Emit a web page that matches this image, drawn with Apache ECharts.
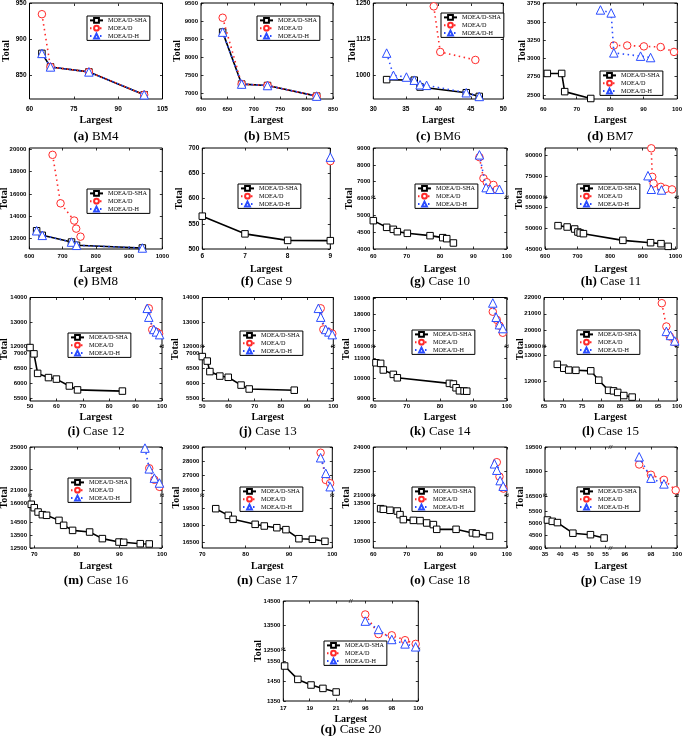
<!DOCTYPE html>
<html><head><meta charset="utf-8">
<script src="https://cdn.jsdelivr.net/npm/echarts@6/dist/echarts.min.js"></script>
<style>html,body{margin:0;padding:0;background:#fff}#c{width:685px;height:740px}</style>
</head><body><div id="c"></div>
<script>
// ---------- tick labels ----------
const A_XT=[60,75,90,105], A_YT=[850,900,950];
const B_XT=[600,650,700,750,800,850], B_YT=[7000,7500,8000,8500,9000,9500];
const C_XT=[30,35,40,45,50], C_YT=[1000,1125,1250];
const D_XT=[60,70,80,90,100], D_YT=[2500,2750,3000,3250,3500,3750];
const E_XT=[600,700,800,900,1000], E_YT=[12000,14000,16000,18000,20000];
const F_XT=[6,7,8,9], F_YT=[500,550,600,650,700];
const G_XT=[60,70,80,90,100], G_YT_LO=[4000,4500,5000], G_YT_HI=[6000,7000,8000,9000];
const H_XT=[600,700,800,900,1000], H_YT_LO=[45000,50000,55000], H_YT_HI=[60000,75000,90000];
const I_XT=[50,60,70,80,90,100], I_YT_LO=[5500,6000,6500,7000], I_YT_HI=[12000,13000,14000];
const J_XT=[50,60,70,80,90,100], J_YT_LO=[5500,6000,6500,7000], J_YT_HI=[12000,13000,14000];
const K_XT=[60,70,80,90,100], K_YT_LO=[9000,10000,11000], K_YT_HI=[16000,17000,18000,19000];
const L_XT=[65,70,75,80,85,90,95,100], L_YT_LO=[12000,13000], L_YT_HI=[19000,20000,21000,22000];
const M_XT=[70,80,90,100], M_YT_LO=[12500,13500,14500,16000], M_YT_HI=[21000,23000,25000];
const N_XT=[70,80,90,100], N_YT_LO=[16500,18000,19500], N_YT_HI=[26000,27000,28000,29000];
const O_XT=[60,70,80,90,100], O_YT_LO=[10500,12000,13500], O_YT_HI=[21000,22500,24000];
const P_XT_LO=[35,40,45,50,55], P_XT_HI=[96,98,100], P_YT_LO=[4000,4500,5000,5500], P_YT_HI=[16500,18000,19500];
const Q_XT_LO=[17,19,21], Q_XT_HI=[96,98,100], Q_YT_LO=[1350,1450,1550], Q_YT_HI=[12500,13500,14500];

// ---------- series values [Largest, Total] ----------
const A_SHA=[[64.2,880],[67.1,861],[80.1,854],[98.8,822]];
const A_D=[[64.2,935],[67.1,861],[80.1,854],[98.8,822]];
const A_H=[[64.2,880],[67.1,861],[80.1,854],[98.8,822]];
const B_SHA=[[641,8690],[677,7245],[726,7205],[819,6910]];
const B_D=[[641,9090],[677,7245],[726,7205],[819,6910]];
const B_H=[[641,8690],[677,7245],[726,7205],[819,6910]];
const C_SHA=[[32.05,983],[36.3,981],[37.2,957],[44.3,937],[46.3,924]];
const C_D=[[39.3,1240],[40.3,1080],[45.7,1052]];
const C_H=[[32.05,1076],[33.1,998],[35.1,992],[36.3,981],[37.2,965],[38.2,963],[44.3,937],[46.3,924]];
const D_SHA=[[61.2,2795],[65.5,2795],[66.4,2546],[74.2,2452]];
const D_D=[[81.1,3178],[85.1,3178],[90.1,3166],[95.1,3157],[99.1,3090]];
const D_H=[[77.1,3665],[80.3,3624],[81.1,3077],[89.1,3032],[92.1,3013]];
const E_SHA=[[622,12710],[639,12300],[727,11700],[742,11410],[940,11170]];
const E_D=[[670,19490],[694,15160],[735,13620],[741,12900],[754,12180]];
const E_H=[[622,12710],[639,12300],[727,11700],[742,11410],[940,11170]];
const F_SHA=[[6,565],[7,530],[8,517],[9,516.5]];
const F_D=[[9,674]];
const F_H=[[9,682]];
const G_SHA=[[60,4850],[64,4650],[66,4590],[67.2,4520],[70.2,4470],[77,4400],[80.8,4340],[82,4310],[84,4180]];
const G_D=[[91.8,8460],[93,7200],[94,6960],[96,6800],[97,6520]];
const G_H=[[91.8,8600],[93.8,6640],[95,6540],[97.8,6540]];
const H_SHA=[[640,50560],[668,50240],[691,49760],[701,49050],[708,48810],[718,48650],[839,47060],[924,46500],[956,46270],[978,45630]];
const H_D=[[922,94700],[925,74500],[929,69800],[951,67400],[966,66000],[985,65600]];
const H_H=[[912,75300],[922,65700],[953,65200]];
const I_SHA=[[50,7190],[51.5,6980],[52.9,6330],[57,6190],[60,6140],[64.9,5910],[68,5780],[85,5740]];
const I_D=[[95,13560],[96.3,12690],[97.9,12600],[98.9,12530]];
const I_H=[[94.4,13560],[95,13200],[96.9,12700],[97.9,12600],[99.1,12490]];
const J_SHA=[[50,6890],[51.9,6740],[52.9,6390],[56.7,6240],[59.9,6200],[64.8,5940],[67.9,5810],[85.1,5770]];
const J_D=[[95.2,13560],[96.2,12700],[98.1,12600],[99.6,12530]];
const J_H=[[94.3,13560],[95.2,13200],[97.1,12700],[98.3,12600],[99.6,12490]];
const K_SHA=[[60.8,10780],[62.2,10750],[63,10420],[66,10200],[67.2,10030],[82.8,9750],[84,9720],[84.8,9530],[85.8,9380],[87.2,9370],[88,9360]];
const K_D=[[95.8,18160],[97,17660],[97.8,17300],[98.8,16860]];
const K_H=[[95.8,18700],[96.8,17820],[97.8,17360],[98.8,17120]];
const L_SHA=[[68.5,12640],[70.2,12490],[71.5,12420],[73.4,12410],[77.3,12390],[79.4,12030],[82,11640],[83.3,11620],[84.4,11560],[86,11440],[88.2,11380]];
const L_D=[[96,21650],[97.2,20220],[98.1,19610],[99.4,19270]];
const L_H=[[97.2,19920],[98.3,19670],[99.4,19330]];
const M_SHA=[[69.3,15950],[70,15680],[70.9,15340],[71.9,15130],[72.9,15080],[75.8,14680],[76.9,14290],[79,13890],[83,13760],[86,13240],[89.9,12970],[91,12950],[94.9,12840],[97,12820]];
const M_D=[[97,23050],[98.2,22000],[99.4,21350]];
const M_H=[[96,24900],[97,23000],[98.2,22150],[99.4,21700]];
const N_SHA=[[73.1,19440],[76,18850],[77.1,18500],[82.2,18060],[84.3,17910],[87.2,17760],[89.3,17590],[92.3,16790],[95.4,16740],[98.3,16560]];
const N_D=[[97.3,28600],[98.5,26700],[99.5,26470]];
const N_H=[[97.3,28250],[98.5,27160],[99.5,26230]];
const O_SHA=[[62.2,13100],[63,13050],[65,12970],[67.2,12910],[68,12620],[69,12220],[72,12160],[74,12140],[76,11950],[78,11820],[79,11440],[84.8,11440],[89.7,11150],[90.8,11090],[94.8,10900]];
const O_D=[[97,23050],[97.8,22150],[99,21400]];
const O_H=[[96.3,22950],[97,22550],[98,21900],[98.9,21550]];
const P_SHA=[[35.8,5135],[37.4,5080],[39.1,5030],[44.2,4600],[50,4540],[54.5,4405]];
const P_D=[[97.1,18430],[98,17800],[99,17490],[99.9,16850]];
const P_H=[[97.1,18900],[98,17590],[99,17240]];
const Q_SHA=[[17.1,1525],[18.1,1458],[19.1,1430],[20,1413],[21,1395]];
const Q_D=[[96,13950],[97,13150],[98,13100],[99,12900],[99.8,12750]];
const Q_H=[[96,13680],[97,13340],[98,12930],[99,12750],[99.8,12630]];

const NAMES=['MOEA/D-SHA','MOEA/D','MOEA/D-H'];

// ---------- layout ----------
const SER='"Liberation Serif","DejaVu Serif",serif';
const SAN='"Liberation Sans","DejaVu Sans",sans-serif';
const ROWS=[
 {top:3,h:96,xm:7,nameY:120,capY:137},
 {top:148,h:101,xm:4,nameY:269,capY:282},
 {top:297.5,h:103.5,xm:2.5,nameY:417,capY:432},
 {top:447,h:101,xm:3.5,nameY:566,capY:581},
 {top:601,h:100,xm:4,nameY:719,capY:730}
];
const P=[
 {lab:'(a)',cap:'BM4',row:0,x:29.5,w:133,tx:6,fs:6.5,xs:[{min:60,max:105,t:A_XT}],ys:[{min:816,max:950,t:A_YT}],s:[A_SHA,A_D,A_H],leg:[87,16]},
 {lab:'(b)',cap:'BM5',row:0,x:201,w:132,tx:177,xs:[{min:600,max:850,t:B_XT}],ys:[{min:6830,max:9500,t:B_YT}],s:[B_SHA,B_D,B_H],leg:[257,16]},
 {lab:'(c)',cap:'BM6',row:0,x:373.3,w:130,tx:352.7,fs:6.5,xs:[{min:30,max:50,t:C_XT}],ys:[{min:915,max:1250,t:C_YT}],s:[C_SHA,C_D,C_H],leg:[441,13]},
 {lab:'(d)',cap:'BM7',row:0,x:543.3,w:134,tx:522.7,xs:[{min:60,max:100,t:D_XT}],ys:[{min:2445,max:3760,t:D_YT}],s:[D_SHA,D_D,D_H],leg:[600,71]},
 {lab:'(e)',cap:'BM8',row:1,x:29.3,w:133,tx:4,xs:[{min:600,max:1000,t:E_XT}],ys:[{min:11080,max:20100,t:E_YT}],s:[E_SHA,E_D,E_H],leg:[87,189]},
 {lab:'(f)',cap:'Case 9',row:1,x:202.3,w:128,tx:179,fs:6.5,xs:[{min:6,max:9,t:F_XT}],ys:[{min:500,max:700,t:F_YT}],s:[F_SHA,F_D,F_H],leg:[238,184]},
 {lab:'(g)',cap:'Case 10',row:1,x:373.3,w:133.5,tx:349.3,xs:[{min:60,max:100,t:G_XT}],ys:[{min:4000,max:5520,t:G_YT_LO,f:[0,0.502]},{min:6000,max:9010,t:G_YT_HI,f:[0.502,1]}],s:[G_SHA,G_D,G_H],leg:[415,184]},
 {lab:'(h)',cap:'Case 11',row:1,x:545,w:132,tx:519,xs:[{min:600,max:1000,t:H_XT}],ys:[{min:45000,max:57070,t:H_YT_LO,f:[0,0.502]},{min:59300,max:94900,t:H_YT_HI,f:[0.502,1]}],s:[H_SHA,H_D,H_H],leg:[577,184]},
 {lab:'(i)',cap:'Case 12',row:2,x:30,w:132,tx:4,xs:[{min:50,max:100,t:I_XT}],ys:[{min:5410,max:7220,t:I_YT_LO,f:[0,0.525]},{min:12000,max:14000,t:I_YT_HI,f:[0.525,1]}],s:[I_SHA,I_D,I_H],leg:[68,333]},
 {lab:'(j)',cap:'Case 13',row:2,x:202.3,w:131,tx:175.7,xs:[{min:50,max:100,t:J_XT}],ys:[{min:5410,max:7220,t:J_YT_LO,f:[0,0.525]},{min:12000,max:14000,t:J_YT_HI,f:[0.525,1]}],s:[J_SHA,J_D,J_H],leg:[240,331]},
 {lab:'(k)',cap:'Case 14',row:2,x:373.3,w:133.5,tx:346,xs:[{min:60,max:100,t:K_XT}],ys:[{min:8870,max:11585,t:K_YT_LO,f:[0,0.525]},{min:16000,max:19040,t:K_YT_HI,f:[0.525,1]}],s:[K_SHA,K_D,K_H],leg:[412,330]},
 {lab:'(l)',cap:'Case 15',row:2,x:544,w:133,tx:520,xs:[{min:65,max:100,t:L_XT}],ys:[{min:11230,max:13320,t:L_YT_LO,f:[0,0.525]},{min:18980,max:22000,t:L_YT_HI,f:[0.525,1]}],s:[L_SHA,L_D,L_H],leg:[577,330]},
 {lab:'(m)',cap:'Case 16',row:3,x:30,w:132,tx:4,xs:[{min:69,max:100,t:M_XT}],ys:[{min:12500,max:16605,t:M_YT_LO,f:[0,0.515]},{min:20510,max:25000,t:M_YT_HI,f:[0.515,1]}],s:[M_SHA,M_D,M_H],leg:[68,478]},
 {lab:'(n)',cap:'Case 17',row:3,x:202.3,w:130,tx:176.7,xs:[{min:70,max:100,t:N_XT}],ys:[{min:15970,max:20560,t:N_YT_LO,f:[0,0.515]},{min:25580,max:29000,t:N_YT_HI,f:[0.515,1]}],s:[N_SHA,N_D,N_H],leg:[240,487]},
 {lab:'(o)',cap:'Case 18',row:3,x:373.3,w:133.5,tx:346,xs:[{min:60,max:100,t:O_XT}],ys:[{min:9940,max:14118,t:O_YT_LO,f:[0,0.515]},{min:20938,max:24000,t:O_YT_HI,f:[0.515,1]}],s:[O_SHA,O_D,O_H],leg:[412,487]},
 {lab:'(p)',cap:'Case 19',row:3,x:545,w:132,tx:520,xs:[{min:35,max:56.6,t:P_XT_LO,f:[0,0.496]},{min:94.9,max:100,t:P_XT_HI,f:[0.496,1]}],ys:[{min:4000,max:6108,t:P_YT_LO,f:[0,0.515]},{min:16500,max:19500,t:P_YT_HI,f:[0.515,1]}],s:[P_SHA,P_D,P_H],leg:[577,487]},
 {lab:'(q)',cap:'Case 20',row:4,x:283.3,w:135,tx:258.3,xs:[{min:17,max:22.1,t:Q_XT_LO,f:[0,0.499]},{min:94.9,max:100,t:Q_XT_HI,f:[0.499,1]}],ys:[{min:1350,max:1605,t:Q_YT_LO,f:[0,0.51]},{min:12500,max:14500,t:Q_YT_HI,f:[0.51,1]}],s:[Q_SHA,Q_D,Q_H],leg:[324,641]}
];

const STY=[
 {symbol:'rect',size:6.5,color:'#000',line:{width:1.6,type:'solid'}},
 {symbol:'circle',size:7.5,color:'#ff2a2a',line:{width:1.6,type:[1.5,3.5]}},
 {symbol:'triangle',size:8.5,color:'#2a4cff',line:{width:1.6,type:[1.5,3.5]}}
];

function axisX(gi,seg,pos,off,showLab,showTick,fs,margin){
  return {gridIndex:gi,type:'value',min:seg.min,max:seg.max,position:pos,offset:off,
    axisLine:{show:false},splitLine:{show:false},
    axisTick:{show:showTick,inside:true,length:2.5,customValues:seg.t,lineStyle:{color:'#000',width:0.8}},
    axisLabel:{show:showLab,customValues:seg.t,formatter:v=>String(v),fontSize:fs,fontFamily:SAN,fontWeight:'bold',color:'#000',margin:margin}};
}
function axisY(gi,seg,pos,off,showLab,showTick,fs){
  return {gridIndex:gi,type:'value',min:seg.min,max:seg.max,position:pos,offset:off,
    axisLine:{show:false},splitLine:{show:false},
    axisTick:{show:showTick,inside:true,length:2.5,customValues:seg.t,lineStyle:{color:'#000',width:0.8}},
    axisLabel:{show:showLab,customValues:seg.t,formatter:v=>String(v),fontSize:fs,fontFamily:SAN,fontWeight:'bold',color:'#000',margin:3}};
}

const opt={animation:false,backgroundColor:'#fff',grid:[],xAxis:[],yAxis:[],series:[],legend:[],graphic:[]};

P.forEach(p=>{
  const R=ROWS[p.row];
  const X=p.x,Y=R.top,W=p.w,H=R.h,fs=p.fs||6;
  const fg=opt.grid.length;
  opt.grid.push({left:X,top:Y,width:W,height:H,show:true,borderColor:'#000',borderWidth:1,backgroundColor:'rgba(0,0,0,0)'});
  opt.xAxis.push({gridIndex:fg,type:'value',min:0,max:1,show:false});
  opt.yAxis.push({gridIndex:fg,type:'value',min:0,max:1,show:false});
  const xs=p.xs.map(s=>Object.assign({f:[0,1]},s));
  const ys=p.ys.map(s=>Object.assign({f:[0,1]},s));
  const cells=xs.length===1?ys.map((_,i)=>[0,i]):[[0,0],[1,1]];
  const doneX={},doneY={},cellAx=[];
  cells.forEach(([xi,yi])=>{
    const sx=xs[xi],sy=ys[yi];
    const gi=opt.grid.length;
    opt.grid.push({left:X+W*sx.f[0],width:W*(sx.f[1]-sx.f[0]),top:Y+H*(1-sy.f[1]),height:H*(sy.f[1]-sy.f[0]),show:false});
    const fx=!doneX[xi];doneX[xi]=true;
    const fy=!doneY[yi];doneY[yi]=true;
    const xb=opt.xAxis.length;
    opt.xAxis.push(axisX(gi,sx,'bottom',H*sy.f[0],fx,fx,fs,R.xm));
    opt.xAxis.push(axisX(gi,sx,'top',H*(1-sy.f[1]),false,fx,fs,0));
    const yl=opt.yAxis.length;
    opt.yAxis.push(axisY(gi,sy,'left',W*sx.f[0],fy,fy,fs));
    opt.yAxis.push(axisY(gi,sy,'right',W*(1-sx.f[1]),false,fy,fs));
    cellAx.push({xb,yl,sx,sy});
  });
  p.s.forEach((data,k)=>{
    const p0=data[0];
    let c=cellAx.find(c=>p0[0]>=c.sx.min&&p0[0]<=c.sx.max&&p0[1]>=c.sy.min&&p0[1]<=c.sy.max)||cellAx[0];
    const st=STY[k];
    opt.series.push({type:'line',name:NAMES[k],xAxisIndex:c.xb,yAxisIndex:c.yl,data:data,
      symbol:st.symbol,symbolSize:st.size,showSymbol:true,clip:false,z:2+k,
      itemStyle:{color:'#fff',borderColor:st.color,borderWidth:1},
      lineStyle:{color:st.color,width:st.line.width,type:st.line.type}});
  });
  opt.legend.push({left:p.leg[0],top:p.leg[1],orient:'vertical',data:NAMES.slice(),selectedMode:false,
    backgroundColor:'#fff',borderColor:'#000',borderWidth:1,borderRadius:0,padding:[1,3,1,2],itemGap:1,
    itemWidth:13,itemHeight:6,textStyle:{fontFamily:SER,fontSize:6.2,color:'#000',lineHeight:6}});
  opt.graphic.push({type:'text',x:p.tx,y:Y+H/2,rotation:Math.PI/2,
    style:{text:'Total',font:'bold 10px '+SER,fill:'#000',textAlign:'center',textVerticalAlign:'middle'}});
  opt.graphic.push({type:'text',x:X+W/2,y:R.nameY,
    style:{text:'Largest',font:'bold 10px '+SER,fill:'#000',textAlign:'center',textVerticalAlign:'middle'}});
  opt.graphic.push({type:'text',x:X+W/2,y:R.capY,
    style:{text:'{b|'+p.lab+'} {n|'+p.cap+'}',textAlign:'center',textVerticalAlign:'middle',
      rich:{b:{fontFamily:SER,fontWeight:'bold',fontSize:13,fill:'#000'},n:{fontFamily:SER,fontSize:13,fill:'#000'}}}});
  if(ys.length>1){
    const by=Y+H*(1-ys[1].f[0]);
    [X,X+W].forEach(bx=>opt.graphic.push({type:'text',x:bx,y:by,
      style:{text:'≈',font:'bold 8px '+SER,fill:'#000',textAlign:'center',textVerticalAlign:'middle'}}));
  }
  if(xs.length>1){
    const bx=X+W*xs[1].f[0];
    [Y,Y+H].forEach(by=>opt.graphic.push({type:'text',x:bx,y:by,
      style:{text:'//',font:'bold 7px '+SER,fill:'#000',textAlign:'center',textVerticalAlign:'middle'}}));
  }
});

const chart=echarts.init(document.getElementById('c'),null,{renderer:'canvas',width:685,height:740});
chart.setOption(opt);
</script>
</body></html>
